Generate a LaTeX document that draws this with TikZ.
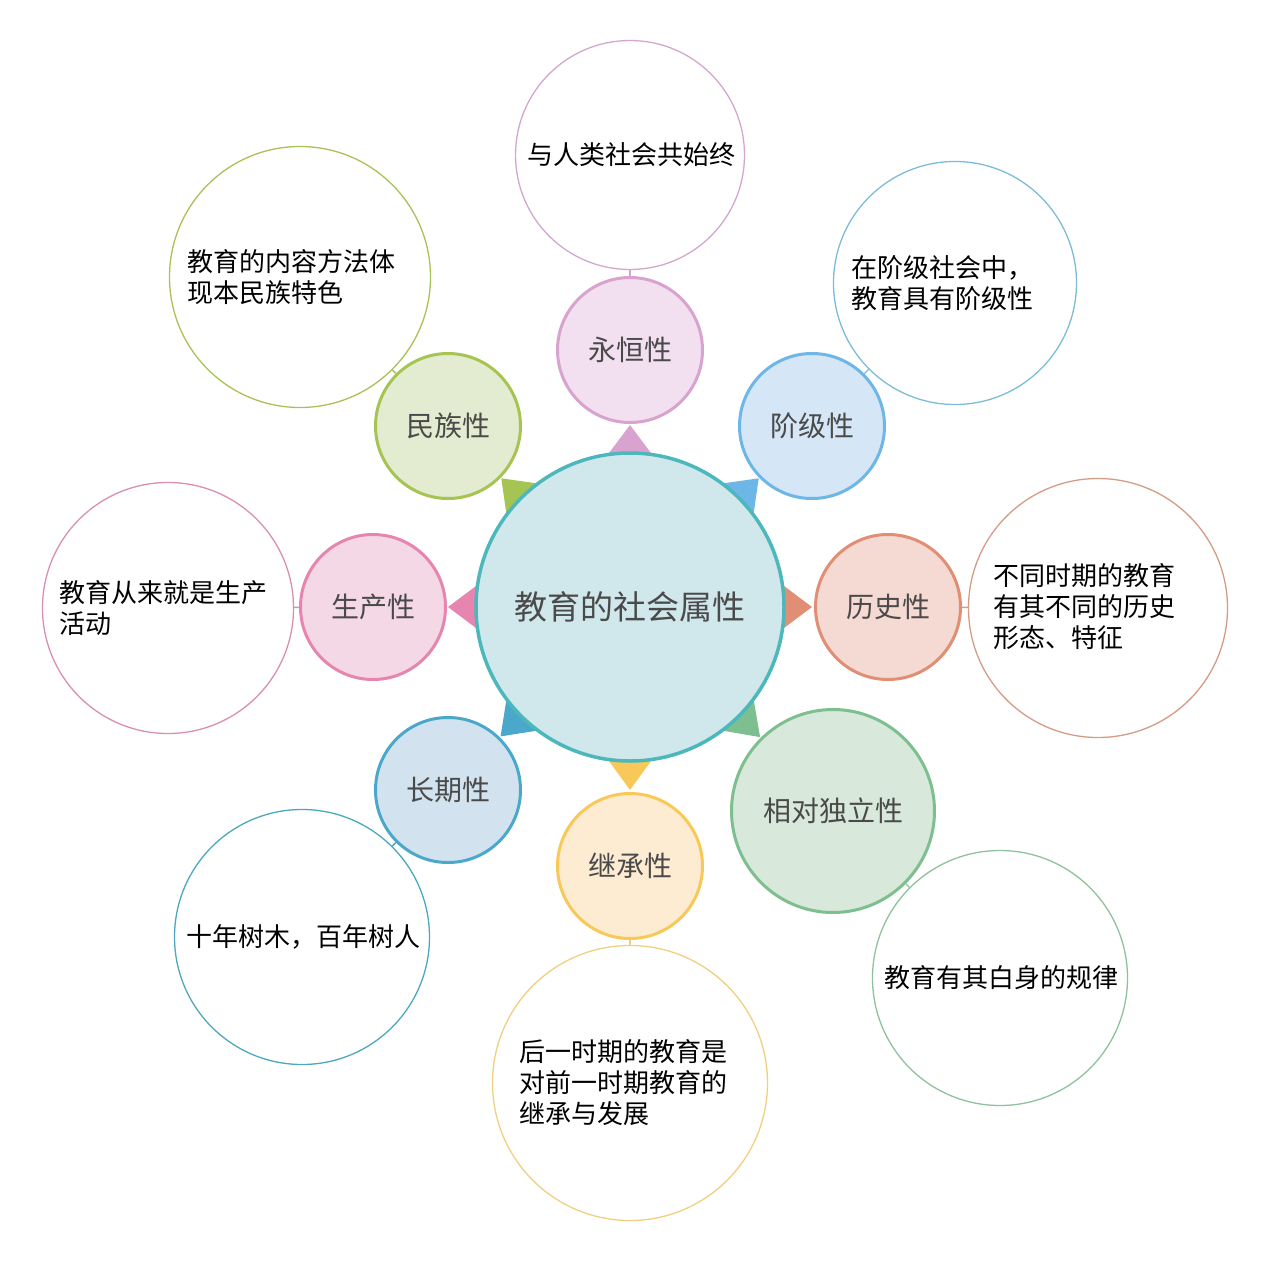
\documentclass[tikz,border=0pt]{standalone}
\usepackage{fontspec}
\newfontfamily\cjk{Noto Sans CJK SC}
\usetikzlibrary{calc}
\definecolor{txtg}{HTML}{4A4A4A}
\definecolor{cenF}{HTML}{D0E8EB}\definecolor{cenB}{HTML}{4DB8BC}
\definecolor{aF}{HTML}{F2DFF0}\definecolor{aB}{HTML}{D9A3D0}\definecolor{aO}{HTML}{D4A6CE}
\definecolor{bF}{HTML}{D5E6F7}\definecolor{bB}{HTML}{6DB6E8}\definecolor{bO}{HTML}{7DBCD9}
\definecolor{hF}{HTML}{F5D9D3}\definecolor{hB}{HTML}{E08E74}\definecolor{hO}{HTML}{D59B85}
\definecolor{dF}{HTML}{D8E8DA}\definecolor{dB}{HTML}{7DBF8F}\definecolor{dO}{HTML}{8FC29C}
\definecolor{jF}{HTML}{FDEBD2}\definecolor{jB}{HTML}{F8C958}\definecolor{jO}{HTML}{F0D080}
\definecolor{lF}{HTML}{D2E3EF}\definecolor{lB}{HTML}{4BA8CB}\definecolor{lO}{HTML}{4BA8BE}
\definecolor{pF}{HTML}{F5D8E6}\definecolor{pB}{HTML}{E685B0}\definecolor{pO}{HTML}{D98FB3}
\definecolor{mF}{HTML}{E3EBD0}\definecolor{mB}{HTML}{A6C452}\definecolor{mO}{HTML}{A8C258}
\begin{document}
\begin{tikzpicture}[x=1pt,y=-1pt,
  core/.style={circle,draw=cenB,fill=cenF,line width=3.5pt,minimum size=308pt,inner sep=0pt,
    font=\cjk\fontsize{33}{40}\selectfont,text=txtg},
  sat/.style={circle,line width=3pt,minimum size=#1,inner sep=0pt,
    font=\cjk\fontsize{28}{34}\selectfont,text=txtg},
  outc/.style={circle,line width=1.3pt,minimum size=#1,inner sep=0pt},
  otext/.style={anchor=west,align=left,inner sep=0pt,font=\cjk\fontsize{26}{31}\selectfont,text=black},
  link/.style={line width=1.3pt}]
\useasboundingbox (0,0) rectangle (1269,1263);
\coordinate (cc) at (630,607);
% triangles (under the centre circle)
\foreach \ang/\tip/\col in {90/182/aB,45/182/bB,0/182/hB,-45/184/dB,-90/183/jB,-135/183/lB,180/182/pB,135/182/mB}{
  \fill[\col] ($(cc)+(\ang:150pt)+(\ang+90:24pt)$) -- ($(cc)+(\ang:\tip pt)$) -- ($(cc)+(\ang:150pt)+(\ang-90:24pt)$) -- cycle;
}
% centre
\node[core] (c) at (cc) {教育的社会属性};
% satellites
\node[sat=145pt,draw=aB,fill=aF] (s1) at (630,350) {永恒性};
\node[sat=145pt,draw=bB,fill=bF] (s2) at (812,426) {阶级性};
\node[sat=145pt,draw=hB,fill=hF] (s3) at (888,607) {历史性};
\node[sat=203pt,draw=dB,fill=dF] (s4) at (833,811) {相对独立性};
\node[sat=145pt,draw=jB,fill=jF] (s5) at (630,866) {继承性};
\node[sat=145pt,draw=lB,fill=lF] (s6) at (448,790) {长期性};
\node[sat=145pt,draw=pB,fill=pF] (s7) at (373,607) {生产性};
\node[sat=145pt,draw=mB,fill=mF] (s8) at (448,426) {民族性};
% outer circles
\node[outc=229pt,draw=aO] (o1) at (630,155) {};
\node[outc=243pt,draw=bO] (o2) at (955,283) {};
\node[outc=259pt,draw=hO] (o3) at (1098,608) {};
\node[outc=255pt,draw=dO] (o4) at (1000,978) {};
\node[outc=275pt,draw=jO] (o5) at (630,1083) {};
\node[outc=255pt,draw=lO] (o6) at (302,937) {};
\node[outc=251pt,draw=pO] (o7) at (168,608) {};
\node[outc=261pt,draw=mO] (o8) at (300,277) {};
% texts
\node[otext] (t1) at (527,155) {与人类社会共始终};
\node[otext] (t2) at (851,283) {在阶级社会中，\\教育具有阶级性};
\node[otext] (t3) at (993,607) {不同时期的教育\\有其不同的历史\\形态、特征};
\node[otext] (t4) at (884,978) {教育有其白身的规律};
\node[otext] (t5) at (519,1083) {后一时期的教育是\\对前一时期教育的\\继承与发展};
\node[otext] (t6) at (186,937) {十年树木，百年树人};
\node[otext] (t7) at (59,608) {教育从来就是生产\\活动};
\node[otext] (t8) at (187,277) {教育的内容方法体\\现本民族特色};
% links
\draw[link,aO] (s1) -- (o1);
\draw[link,bO] (s2) -- (o2);
\draw[link,hO] (s3) -- (o3);
\draw[link,dO] (s4) -- (o4);
\draw[link,jO] (s5) -- (o5);
\draw[link,lO] (s6) -- (o6);
\draw[link,pO] (s7) -- (o7);
\draw[link,mO] (s8) -- (o8);
\end{tikzpicture}
\end{document}
